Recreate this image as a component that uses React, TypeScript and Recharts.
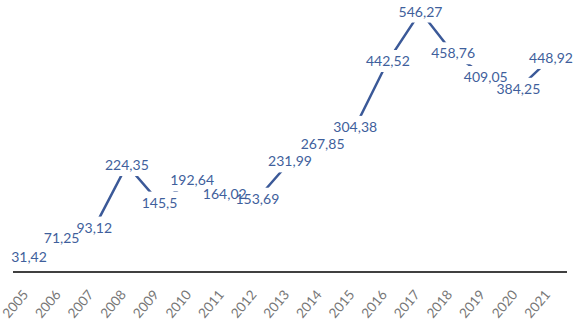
import React from "react";
import { LineChart, Line, XAxis, YAxis, LabelList } from "recharts";

const years = ["2005","2006","2007","2008","2009","2010","2011","2012","2013","2014","2015","2016","2017","2018","2019","2020","2021"];
const values = [31.42, 71.25, 93.12, 224.35, 145.5, 192.64, 164.02, 153.69, 231.99, 267.85, 304.38, 442.52, 546.27, 458.76, 409.05, 384.25, 448.92];

const data = years.map((y, i) => ({ year: y, value: values[i] }));

const FONT = "Lato, 'Open Sans', sans-serif";

const fmt = (v: any) => String(v).replace(".", ",");

const Tick = (props: any) => {
  const { x, y, payload } = props;
  const ax = x;
  const ay = y + 15;
  return (
    <text
      x={ax}
      y={ay}
      transform={`rotate(-50, ${ax}, ${ay})`}
      textAnchor="end"
      fill="#777777"
      fontSize={13.5}
      fontFamily={FONT}
    >
      {payload.value}
    </text>
  );
};

const LabelBox = (props: any) => {
  const { x, y, value } = props;
  const txt = fmt(value);
  const w = txt.length * 7.5 + 8;
  const h = 22;
  return <rect x={x - w / 2} y={y - h / 2} width={w} height={h} fill="#ffffff" />;
};

const LabelText = (props: any) => {
  const { x, y, value } = props;
  return (
    <text
      x={x}
      y={y}
      dy={5}
      textAnchor="middle"
      fill="#3f5f9c"
      fontSize={14}
      fontFamily={FONT}
    >
      {fmt(value)}
    </text>
  );
};

export default function App() {
  return (
    <div style={{ position: "absolute", left: 0, top: 0, width: 579, height: 322, background: "#fff" }}>
      <LineChart
        width={579}
        height={322}
        data={data}
        margin={{ top: 5, right: 12, left: 13, bottom: 0 }}
      >
        <XAxis
          dataKey="year"
          height={50}
          interval={0}
          padding={{ left: 16, right: 16 }}
          tickLine={false}
          axisLine={{ stroke: "#000", strokeWidth: 1.5 }}
          tick={<Tick />}
        />
        <YAxis hide domain={[0, 560]} />
        <Line
          type="linear"
          dataKey="value"
          stroke="#3b5998"
          strokeWidth={2.5}
          dot={false}
          isAnimationActive={false}
        >
          <LabelList dataKey="value" content={<LabelBox />} />
          <LabelList dataKey="value" content={<LabelText />} />
        </Line>
      </LineChart>
    </div>
  );
}
